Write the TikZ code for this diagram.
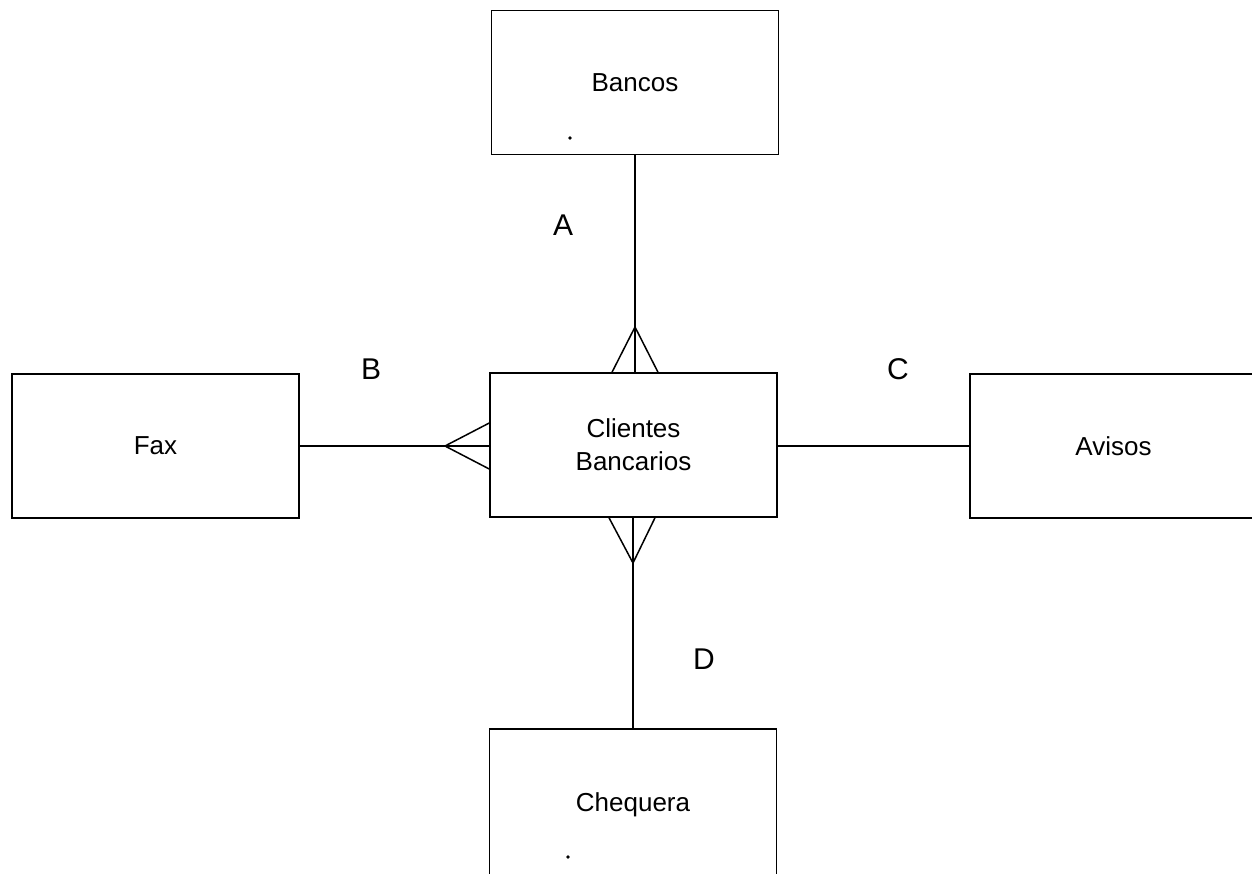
\documentclass[tikz,border=0pt]{standalone}
\usepackage{fontspec}
\setmainfont{Liberation Sans}
\begin{document}
\begin{tikzpicture}[x=1pt,y=-1pt,
  entity/.style={draw, line width=1.5pt, minimum width=287pt, minimum height=144pt,
    inner sep=0pt, align=center, font=\fontsize{26}{33}\selectfont},
  link/.style={line width=1.5pt},
  tag/.style={font=\fontsize{30}{36}\selectfont, inner sep=0pt},
  speck/.style={fill=black, draw=none}]
\useasboundingbox (0,0) rectangle (1252,873);
\fill[white] (0,0) rectangle (1252,873);
\begin{scope}
\clip (0,0) rectangle (1252,873);

% entities
\node[entity] (bancos)   at (635,82.5)  {Bancos};
\node[entity] (clientes) at (633.5,445) {Clientes\\Bancarios};
\node[entity] (fax)      at (155.5,446) {Fax};
\node[entity] (avisos)   at (1113.5,446) {Avisos};
\node[entity, minimum height=152pt] (chequera) at (633,805) {Chequera};

% crow's foot apexes
\coordinate (topapex)    at (635,327);
\coordinate (leftapex)   at (445,446);
\coordinate (bottomapex) at (633,563);

% Bancos -- Clientes (A)
\draw[link] (bancos.south) -- (clientes.north -| bancos.south);
\draw[link] ([xshift=-23pt]clientes.north -| topapex) -- (topapex) -- ([xshift=23pt]clientes.north -| topapex);

% Fax -- Clientes (B)
\draw[link] (fax.east) -- (clientes.west |- fax.east);
\draw[link] ([yshift=-23pt]clientes.west |- leftapex) -- (leftapex) -- ([yshift=23pt]clientes.west |- leftapex);

% Clientes -- Avisos (C)
\draw[link] (clientes.east |- avisos.west) -- (avisos.west);

% Clientes -- Chequera (D)
\draw[link] (clientes.south -| chequera.north) -- (chequera.north);
\draw[link] ([xshift=-24pt]clientes.south -| bottomapex) -- (bottomapex) -- ([xshift=22pt]clientes.south -| bottomapex);

% relationship labels
\node[tag] (la) at (563,225) {A};
\node[tag] (lb) at (371,369) {B};
\node[tag] (lc) at (898,369) {C};
\node[tag] (ld) at (704,659) {D};

% specks inside boxes
\fill[speck] (570,138) circle (1.8pt);
\fill[speck] (568,857) circle (1.8pt);
\end{scope}
\end{tikzpicture}
\end{document}
